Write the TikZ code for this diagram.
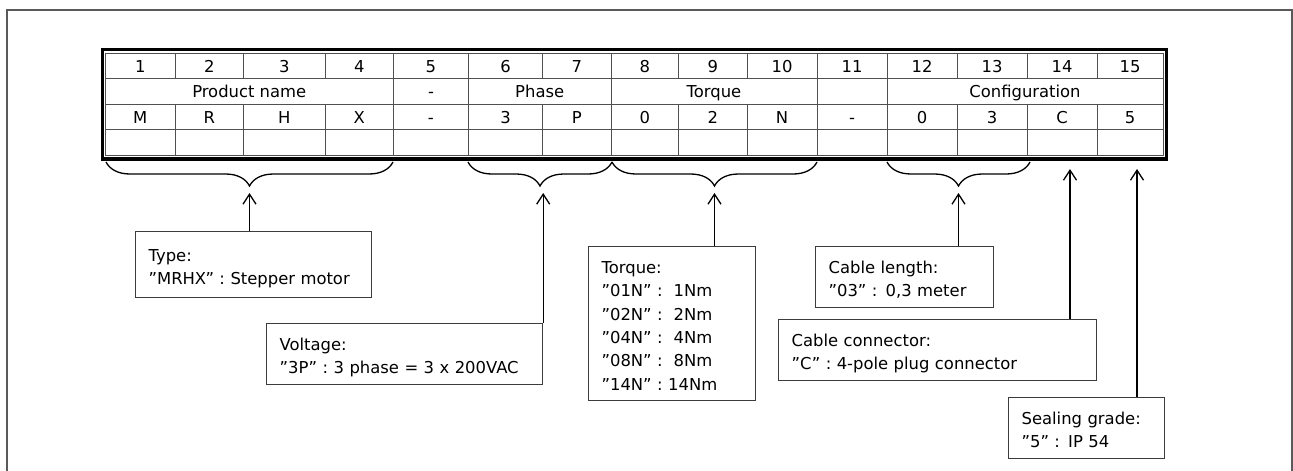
\documentclass[tikz,border=0pt]{standalone}
\usepackage{fontspec}
\setmainfont{DejaVu Sans}
\usetikzlibrary{arrows.meta, decorations.pathreplacing}
\definecolor{framegrey}{HTML}{5A5A5A}
\definecolor{gridgrey}{HTML}{505050}
\definecolor{boxgrey}{HTML}{3C3C3C}
\begin{document}
\begin{tikzpicture}[x=1pt, y=-1pt,
  font=\fontsize{16.4}{23.3}\selectfont,
  cell/.style={anchor=base, inner sep=0pt},
  grid/.style={gridgrey, line width=0.9pt},
  info/.style={draw=boxgrey, line width=1.2pt, anchor=north west, align=left,
               inner xsep=13pt, inner ysep=0pt,
               execute at begin node={\rule{0pt}{27pt}},
               execute at end node={\rule[-10.5pt]{0pt}{0pt}}},
  brc/.style={decorate, decoration={brace, mirror, amplitude=24pt}, line width=1.3pt},
  ar/.style={-{Straight Barb[length=10pt, width=13pt]}, line width=1.3pt}]
\useasboundingbox (0,0) rectangle (1293,471);
\draw[framegrey, line width=1.5pt] (7,476) -- (7,10) -- (1292,10) -- (1292,476);
\draw[line width=3.5pt] (102.5,49.5) rectangle (1166.5,159);
\draw[grid] (105.5,53) rectangle (1163,155);
\foreach \y in {78.5,104,129.5} \draw[grid] (105.5,\y) -- (1163,\y);
\foreach \x in {175,243.5,325,542.7,678.6,747,957,1027,1097}
  \draw[grid] (\x,53) -- (\x,78.5) (\x,104) -- (\x,155);
\foreach \x in {393.5,468.4,611,817,887}
  \draw[grid] (\x,53) -- (\x,155);
\foreach \l/\r/\n/\v [count=\i] in {105.5/175/1/M, 175/243.5/2/R, 243.5/325/3/H,
    325/393.5/4/X, 393.5/468.4/5/-, 468.4/542.7/6/3, 542.7/611/7/P, 611/678.6/8/0,
    678.6/747/9/2, 747/817/10/N, 817/887/11/-, 887/957/12/0, 957/1027/13/3,
    1027/1097/14/C, 1097/1163/15/5}
{
  \node[cell] (n\i) at ({(\l+\r)/2},72) {\n};
  \node[cell] (v\i) at ({(\l+\r)/2},123) {\v};
}
\node[cell] (prod) at (249.25,97.5) {Product name};
\node[cell] (sep) at (431,97.5) {-};
\node[cell] (phase) at (539.7,97.5) {Phase};
\node[cell] (torq) at (714,97.5) {Torque};
\node[cell] (conf) at (1025,97.5) {Configuration};
\draw[brc] (106,162) -- (393,162);
\draw[brc] (468,162) -- (612,162);
\draw[brc] (612,162) -- (817,162);
\draw[brc] (887,162) -- (1030,162);
\coordinate (prodtip) at (249.5,193);
\coordinate (phasetip) at (540,193);
\coordinate (torqtip) at (714.5,193);
\coordinate (conftip) at (958.5,193);
\coordinate (plugtip) at (1070,169);
\coordinate (sealtip) at (1137,169);
\node[info, minimum width=236pt, minimum height=66pt, text width=210pt,
      execute at begin node={\rule{0pt}{22pt}}] (type) at (135,231)
  {Type:\\”MRHX” : Stepper motor};
\node[info, minimum width=276pt, text width=250pt] (volt) at (266,323)
  {Voltage:\\”3P” : 3 phase = 3 x 200VAC};
\node[info, minimum width=167pt, text width=141pt] (torque) at (588,246)
  {Torque:\\”01N” :\ \ 1Nm\\”02N” :\ \ 2Nm\\”04N” :\ \ 4Nm\\”08N” :\ \ 8Nm\\”14N” : 14Nm};
\node[info, minimum width=178pt, text width=152pt] (clen) at (815,246)
  {Cable length:\\”03” : 0,3 meter};
\node[info, minimum width=318pt, text width=292pt] (plug) at (778,319)
  {Cable connector:\\”C” : 4-pole plug connector};
\node[info, minimum width=156pt, text width=130pt] (seal) at (1008,397)
  {Sealing grade:\\”5” : IP 54};
\draw[ar] (type.north -| prodtip) -- (prodtip);
\draw[ar] (volt.north east) -- (volt.north east |- phasetip);
\draw[ar] (torque.north -| torqtip) -- (torqtip);
\draw[ar] (clen.north -| conftip) -- (conftip);
\draw[ar] (plug.north -| plugtip) -- (plugtip);
\draw[ar] (seal.north -| sealtip) -- (sealtip);
\end{tikzpicture}
\end{document}
